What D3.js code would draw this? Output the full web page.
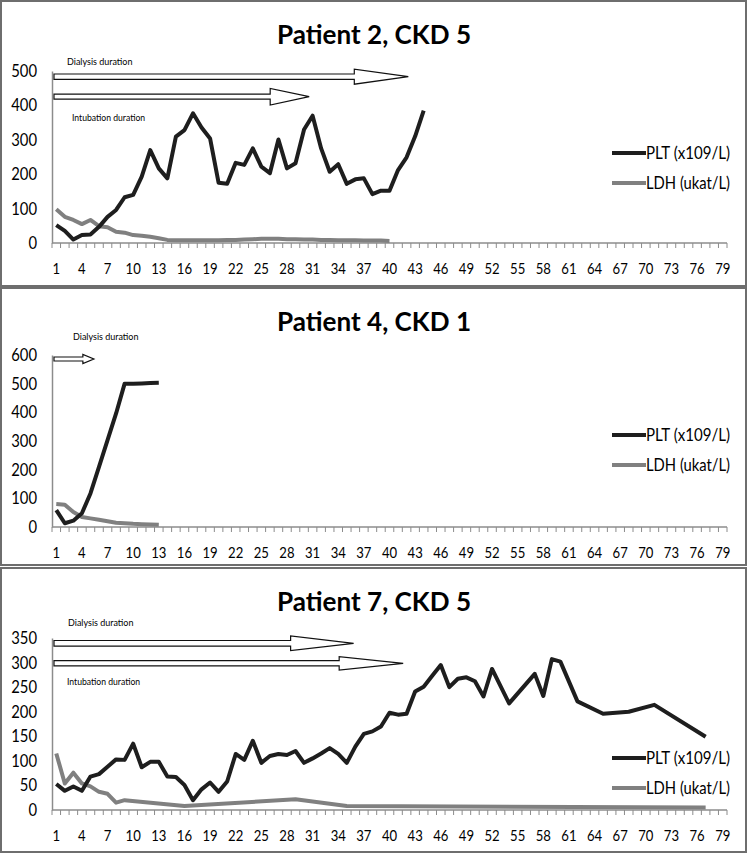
<!DOCTYPE html>
<html>
<head>
<meta charset="utf-8">
<title>PLT / LDH by patient</title>
<script src="https://cdn.jsdelivr.net/npm/d3@7"></script>
<style>
  body { margin: 0; background: #fff; }
  text { font-family: Lato, "Open Sans", sans-serif; fill: #000; }
</style>
</head>
<body>
<script>
// x axis: days 1..79, a label every third day
var days = d3.range(1, 80);
var dayLabels = d3.range(1, 80, 3);

var titles = ["Patient 2, CKD 5", "Patient 4, CKD 1", "Patient 7, CKD 5"];
var seriesNames = ["PLT (x109/L)", "LDH (ukat/L)"];

// patient 2, values from day 1
var plt2 = [52, 35, 10, 23, 25, 47, 76, 96, 133, 140, 193, 270, 217, 188, 309, 328, 377, 336, 304, 175,
            172, 233, 227, 275, 222, 203, 301, 217, 232, 330, 370, 275, 207, 229, 172, 185, 188, 142, 152, 152,
            212, 249, 310, 385];
var ldh2 = [98, 76, 67, 55, 67, 49, 46, 33, 30, 23, 21, 18, 14, 9, 8, 8, 8, 8, 8, 8,
            9, 9, 10, 11, 12, 12, 12, 11, 11, 10, 10, 9, 9, 8, 8, 8, 7, 7, 7, 6];

// patient 4
var plt4 = [59, 13, 22, 48, 117, 210, 303, 396, 500, 500, 501, 502, 503];
var ldh4 = [80, 78, 52, 35, 30, 25, 20, 15, 13, 11, 10, 9, 8];

// patient 7, null = no value that day
var plt7 = [53, 39, 48, 39, 68, 73, 88, 103, 102, 135, 87, 98, 98, 68, 67, 51, 20, 42, 56, 37,
            58, 114, 102, 141, 96, 110, 114, 112, 120, 96, 105, 115, 126, 114, 96, 129, 155, 160, 170, 198,
            194, 196, 241, 251, 273, 295, 250, 267, 270, 262, 231, 287, null, 217, null, null, 277, 232, 307, 302,
            null, 221, null, null, 196, null, null, 200, null, null, 214, null, null, null, null, null, 149];
var ldh7 = [115, 54, 76, 54, 48, 37, 33, 15, 20, null, null, null, null, null, null, 8, null, null, null, null,
            null, null, null, null, null, null, null, null, 22, null, null, null, null, null, 8, null, null, null, null, null,
            null, null, null, null, null, null, null, null, null, null, null, null, null, null, null, null, null, null, null, null,
            null, null, null, null, null, null, null, null, null, null, null, null, null, null, null, null, 5];

var yMax = [500, 600, 350];
var yStep = [100, 100, 50];

// day on which each duration arrow ends
var dialysisEnd = [42.2, 5.4, 35.8];
var intubationEnd = [30.6, null, 41.6];

var W = 749, H = 854;
var svg = d3.select("body").append("svg")
    .attr("width", W)
    .attr("height", H);

// page layout of the three panels
var panels = [
  { top: 1, bottom: 286, y0: 243, y1: 71, plt: plt2, ldh: ldh2, leg: 153,
    arrows: [ { cy: 76.7, sh: 2.7, hh: 7.5, hl: 54, end: dialysisEnd[0] },
              { cy: 96.7, sh: 2.5, hh: 8.3, hl: 39, end: intubationEnd[0] } ],
    notes: [ { x: 67, y: 65, t: "Dialysis duration" }, { x: 72, y: 121, t: "Intubation duration" } ] },
  { top: 288, bottom: 565, y0: 527, y1: 355, plt: plt4, ldh: ldh4, leg: 435,
    arrows: [ { cy: 359, sh: 2, hh: 4.5, hl: 11, end: dialysisEnd[1] } ],
    notes: [ { x: 73, y: 340, t: "Dialysis duration" } ] },
  { top: 568, bottom: 852, y0: 810, y1: 638, plt: plt7, ldh: ldh7, leg: 758,
    arrows: [ { cy: 643.3, sh: 2.8, hh: 7.3, hl: 63, end: dialysisEnd[2] },
              { cy: 663.3, sh: 2.6, hh: 6.7, hl: 64, end: intubationEnd[2] } ],
    notes: [ { x: 68, y: 626, t: "Dialysis duration" }, { x: 67, y: 685, t: "Intubation duration" } ] }
];

var x = d3.scaleBand().domain(days).range([52, 727]).padding(0);
var dayX = d3.scaleLinear().domain([0.5, 79.5]).range([52, 727]);

panels.forEach(function(p, i) {
  var g = svg.append("g");

  g.append("rect")
    .attr("x", 1).attr("y", p.top)
    .attr("width", 745).attr("height", p.bottom - p.top)
    .attr("fill", "#fff").attr("stroke", "#6e6e6e").attr("stroke-width", 2);

  g.append("text")
    .attr("x", 374).attr("y", p.top + 43)
    .attr("text-anchor", "middle")
    .attr("font-size", 26).attr("font-weight", "bold")
    .attr("textLength", 194).attr("lengthAdjust", "spacingAndGlyphs")
    .text(titles[i]);

  var y = d3.scaleLinear().domain([0, yMax[i]]).range([p.y0, p.y1]);

  // y axis: line + labels, no tick marks
  var yAxis = d3.axisLeft(y).tickValues(d3.range(0, yMax[i] + 1, yStep[i]))
      .tickSize(0).tickPadding(15);
  var ya = g.append("g").attr("transform", "translate(52,0)").call(yAxis);
  ya.select(".domain").attr("stroke", "#8c8c8c").attr("stroke-width", 1.5);
  ya.selectAll("text").attr("font-size", 17).attr("font-family", "Lato")
    .attr("textLength", function(d) { return String(d).length * 8.6; })
    .attr("lengthAdjust", "spacingAndGlyphs");

  // x axis: ticks between days, labels every third day
  var xa = g.append("g").attr("transform", "translate(0," + p.y0 + ")");
  xa.append("line").attr("x1", 52).attr("x2", 727)
    .attr("stroke", "#8c8c8c").attr("stroke-width", 1.5);
  xa.selectAll("line.tk").data(d3.range(0, 80)).enter().append("line")
    .attr("class", "tk")
    .attr("x1", function(d) { return dayX(d + 0.5); })
    .attr("x2", function(d) { return dayX(d + 0.5); })
    .attr("y1", 0).attr("y2", 5)
    .attr("stroke", "#8c8c8c").attr("stroke-width", 1);
  xa.selectAll("text").data(dayLabels).enter().append("text")
    .attr("x", function(d) { return x(d) + x.bandwidth() / 2; })
    .attr("y", 31)
    .attr("text-anchor", "middle")
    .attr("font-size", 16)
    .attr("textLength", function(d) { return String(d).length * 7.6; })
    .attr("lengthAdjust", "spacingAndGlyphs")
    .text(function(d) { return d; });

  // duration arrows
  p.arrows.forEach(function(a) {
    var x0 = 54, tip = dayX(a.end), hs = tip - a.hl;
    var pts = [[x0, a.cy - a.sh], [hs, a.cy - a.sh], [hs, a.cy - a.hh], [tip, a.cy],
               [hs, a.cy + a.hh], [hs, a.cy + a.sh], [x0, a.cy + a.sh]];
    g.append("path")
      .attr("d", "M" + pts.join("L") + "Z")
      .attr("fill", "#fff").attr("stroke", "#111").attr("stroke-width", 1.2);
  });
  p.notes.forEach(function(n) {
    g.append("text").attr("x", n.x).attr("y", n.y)
      .attr("font-size", 9.5)
      .attr("textLength", n.t.length * 3.85).attr("lengthAdjust", "spacingAndGlyphs")
      .text(n.t);
  });

  var line = d3.line()
    .x(function(d) { return x(d.day) + x.bandwidth() / 2; })
    .y(function(d) { return y(d.v); });

  function pts(arr) {
    return arr.map(function(v, k) { return { day: k + 1, v: v }; })
              .filter(function(d) { return d.v != null; });
  }

  g.append("path").datum(pts(p.ldh))
    .attr("d", line).attr("fill", "none")
    .attr("stroke", "#808080").attr("stroke-width", 4)
    .attr("stroke-linejoin", "round");
  g.append("path").datum(pts(p.plt))
    .attr("d", line).attr("fill", "none")
    .attr("stroke", "#1e1e1e").attr("stroke-width", 4)
    .attr("stroke-linejoin", "round");

  // legend
  var lg = g.append("g");
  [["#1e1e1e", 0], ["#808080", 30]].forEach(function(s, k) {
    lg.append("line")
      .attr("x1", 612).attr("x2", 646)
      .attr("y1", p.leg + s[1]).attr("y2", p.leg + s[1])
      .attr("stroke", s[0]).attr("stroke-width", 4);
    lg.append("text")
      .attr("x", 646).attr("y", p.leg + s[1] + 6)
      .attr("font-size", 17)
      .attr("textLength", 84).attr("lengthAdjust", "spacingAndGlyphs")
      .text(seriesNames[k]);
  });
});
</script>
</body>
</html>
